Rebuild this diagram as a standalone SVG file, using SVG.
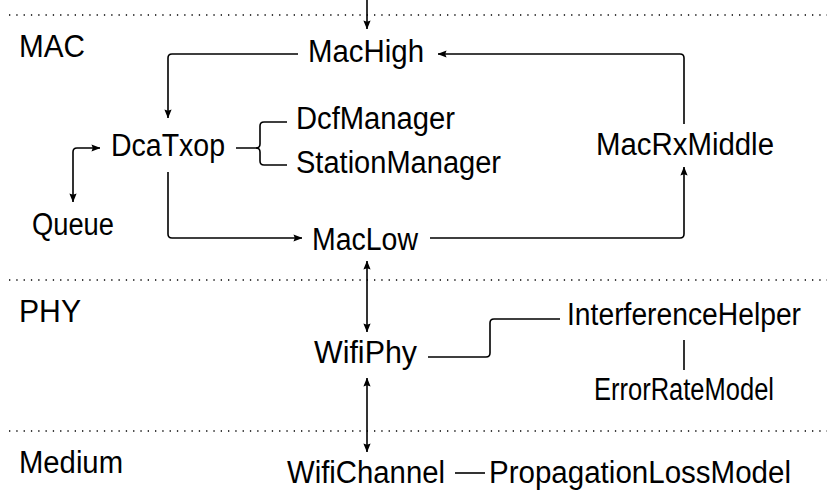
<svg xmlns="http://www.w3.org/2000/svg" width="827" height="490" viewBox="0 0 827 490">
<style>
.t{font-family:"Liberation Sans",Arial,sans-serif;font-size:31px;fill:#000}
.c{fill:none;stroke:#000;stroke-width:1.6}
.a{marker-end:url(#ah)}
.b{marker-start:url(#ah);marker-end:url(#ah)}
.d{fill:none;stroke:#000;stroke-width:1.3;stroke-dasharray:1.3 6}
</style>
<defs>
<marker id="ah" viewBox="0 0 10 8" refX="9.5" refY="4" markerWidth="9" markerHeight="7.5" markerUnits="userSpaceOnUse" orient="auto-start-reverse">
<path d="M0,0 L10,4 L0,8 L1.5,4 z" fill="#000"/>
</marker>
</defs>
<rect width="827" height="490" fill="#fff"/>
<g id="layers">
<line class="d" x1="9" y1="15" x2="827" y2="15"/>
<line class="d" x1="9" y1="280" x2="827" y2="280"/>
<line class="d" x1="9" y1="431" x2="827" y2="431"/>
<text class="t" x="19" y="57" textLength="66" lengthAdjust="spacingAndGlyphs">MAC</text>
<text class="t" x="19" y="322" textLength="62" lengthAdjust="spacingAndGlyphs">PHY</text>
<text class="t" x="19" y="473" textLength="104" lengthAdjust="spacingAndGlyphs">Medium</text>
</g>
<g id="connectors">
<path class="c a" d="M367,0 V29"/>
<path class="c a" d="M298,54 H172 Q168,54 168,58 V118"/>
<path class="c a" d="M684,124 V58 Q684,54 680,54 H438"/>
<path class="c b" d="M73,202 V152 Q73,148 77,148 H100"/>
<path class="c" d="M236,148 H256 Q260,148 260,144 V126 Q260,122 264,122 H287"/>
<path class="c" d="M256,148 Q260,148 260,152 V161 Q260,165 264,165 H287"/>
<path class="c a" d="M168,172 V234 Q168,238 172,238 H302"/>
<path class="c a" d="M430,238 H680 Q684,238 684,234 V167"/>
<path class="c b" d="M367,261 V332"/>
<path class="c" d="M428,357 H486 Q490,357 490,353 V323 Q490,319 494,319 H560"/>
<path class="c" d="M684,340 V370"/>
<path class="c b" d="M367,378 V452"/>
<path class="c" d="M455,473 H485"/>
</g>
<g id="MacHigh"><text class="t" x="308" y="62" textLength="116" lengthAdjust="spacingAndGlyphs">MacHigh</text></g>
<g id="DcaTxop"><text class="t" x="111" y="156" textLength="114" lengthAdjust="spacingAndGlyphs">DcaTxop</text></g>
<g id="DcfManager"><text class="t" x="296" y="129" textLength="159" lengthAdjust="spacingAndGlyphs">DcfManager</text></g>
<g id="StationManager"><text class="t" x="296" y="173" textLength="205" lengthAdjust="spacingAndGlyphs">StationManager</text></g>
<g id="MacRxMiddle"><text class="t" x="596" y="155" textLength="178" lengthAdjust="spacingAndGlyphs">MacRxMiddle</text></g>
<g id="Queue"><text class="t" x="32" y="235" textLength="82" lengthAdjust="spacingAndGlyphs">Queue</text></g>
<g id="MacLow"><text class="t" x="312" y="250" textLength="106" lengthAdjust="spacingAndGlyphs">MacLow</text></g>
<g id="WifiPhy"><text class="t" x="314" y="363" textLength="103" lengthAdjust="spacingAndGlyphs">WifiPhy</text></g>
<g id="InterferenceHelper"><text class="t" x="567" y="325" textLength="234" lengthAdjust="spacingAndGlyphs">InterferenceHelper</text></g>
<g id="ErrorRateModel"><text class="t" x="594" y="400" textLength="180" lengthAdjust="spacingAndGlyphs">ErrorRateModel</text></g>
<g id="WifiChannel"><text class="t" x="287" y="483" textLength="158" lengthAdjust="spacingAndGlyphs">WifiChannel</text></g>
<g id="PropagationLossModel"><text class="t" x="489" y="483" textLength="302" lengthAdjust="spacingAndGlyphs">PropagationLossModel</text></g>
</svg>
